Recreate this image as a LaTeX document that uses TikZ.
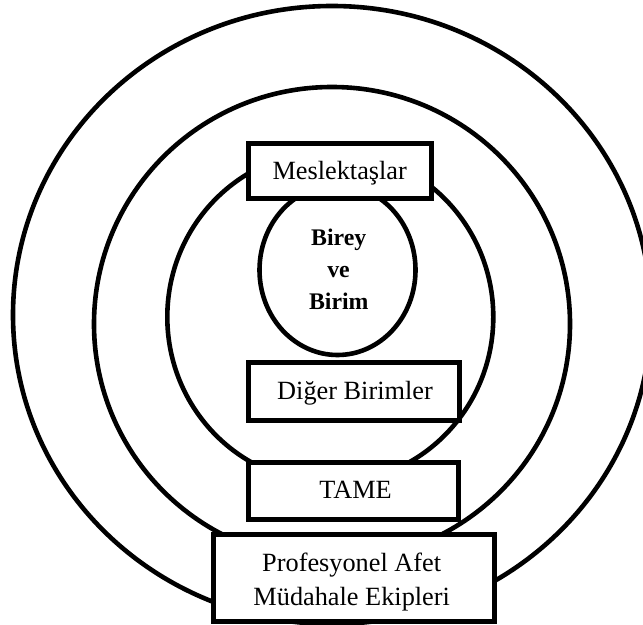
\documentclass[tikz,border=0pt]{standalone}
\usepackage{fontspec}
\setmainfont{Liberation Serif}
\usetikzlibrary{shapes.geometric}
\begin{document}
\begin{tikzpicture}[x=1bp,y=-1bp,
  ring/.style={draw=black,line width=4.6bp,ellipse,inner sep=0pt,outer sep=0pt},
  layerbox/.style={draw=black,fill=white,line width=5bp,rectangle,inner sep=0pt,outer sep=0pt},
  boxtext/.style={anchor=base,inner sep=0pt,font=\fontsize{26.3bp}{32bp}\selectfont},
  coretext/.style={anchor=base,inner sep=0pt,font=\bfseries\fontsize{23.8bp}{30bp}\selectfont}]
  \useasboundingbox[fill=white] (0,0) rectangle (643,625);

  % concentric rings
  \node[ring,minimum width=638bp,minimum height=618bp] (outer) at (332,315) {};
  \node[ring,minimum width=476bp,minimum height=474bp] (middle) at (332,324) {};
  \node[ring,minimum width=326bp,minimum height=332bp] (inner) at (330.3,317) {};
  \node[ring,minimum width=156bp,minimum height=170bp] (core) at (337.5,270) {};

  % core label
  \node[coretext] (birey) at (338.7,245) {Birey};
  \node[coretext] (ve) at (338.5,277.5) {ve};
  \node[coretext] (birim) at (338.8,309) {Birim};

  % layer boxes
  \node[layerbox,minimum width=183bp,minimum height=54bp] (mes) at (339.5,171) {};
  \node[layerbox,minimum width=211bp,minimum height=58bp] (diger) at (353.5,391) {};
  \node[layerbox,minimum width=210bp,minimum height=57bp] (tame) at (353,490.5) {};
  \node[layerbox,minimum width=281bp,minimum height=87bp] (pro) at (353.5,577.5) {};

  % box labels
  \node[boxtext] (mestext) at (339.7,180) {Meslektaşlar};
  \node[boxtext] (digertext) at (355,399.3) {Diğer Birimler};
  \node[boxtext] (tametext) at (355.5,498.3) {TAME};
  \node[boxtext] (protext1) at (351.7,571.7) {Profesyonel Afet};
  \node[boxtext] (protext2) at (351.7,605) {Müdahale Ekipleri};
\end{tikzpicture}
\end{document}
